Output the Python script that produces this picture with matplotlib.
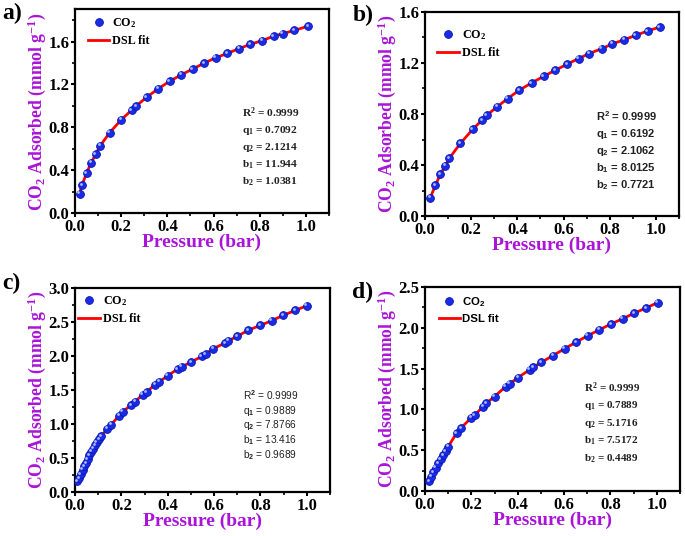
import matplotlib
matplotlib.use("Agg")
import matplotlib.pyplot as plt
from matplotlib.ticker import MultipleLocator, FormatStrFormatter
from matplotlib.lines import Line2D
import matplotlib.transforms as mtransforms

plt.rcParams['font.family'] = ['Liberation Serif', 'DejaVu Serif']
plt.rcParams['font.weight'] = 'bold'
plt.rcParams['mathtext.fontset'] = 'custom'
plt.rcParams['mathtext.rm'] = 'Liberation Serif:bold'
plt.rcParams['mathtext.it'] = 'Liberation Serif:italic:bold'
plt.rcParams['mathtext.bf'] = 'Liberation Serif:bold'
plt.rcParams['mathtext.sf'] = 'Liberation Sans:bold'

# ---------------- data ----------------
p_a = [0.02, 0.03, 0.05, 0.07, 0.09, 0.11, 0.15, 0.20, 0.245, 0.265, 0.31, 0.36,
       0.41, 0.46, 0.51, 0.56, 0.61, 0.66, 0.71, 0.76, 0.81, 0.86, 0.90, 0.95, 1.01]
q_a = [0.18, 0.26, 0.37, 0.47, 0.55, 0.63, 0.75, 0.87, 0.96, 1.00, 1.08, 1.16,
       1.23, 1.29, 1.345, 1.40, 1.45, 1.49, 1.535, 1.575, 1.61, 1.65, 1.675, 1.705, 1.745]

p_b = [0.023, 0.045, 0.066, 0.088, 0.105, 0.153, 0.206, 0.247, 0.268, 0.312, 0.358,
       0.408, 0.462, 0.514, 0.564, 0.615, 0.665, 0.711, 0.766, 0.812, 0.863, 0.913,
       0.964, 1.017]
q_b = [0.144, 0.24, 0.326, 0.394, 0.452, 0.569, 0.679, 0.752, 0.791, 0.856, 0.921,
       0.987, 1.044, 1.096, 1.143, 1.19, 1.235, 1.274, 1.313, 1.35, 1.383, 1.417,
       1.451, 1.483]

p_c = [0.010, 0.017, 0.024, 0.033, 0.040, 0.047, 0.055, 0.062, 0.070, 0.078, 0.086,
       0.094, 0.104, 0.112, 0.140, 0.155, 0.190, 0.206, 0.242, 0.259, 0.292, 0.309,
       0.345, 0.363, 0.400, 0.443, 0.460, 0.500, 0.547, 0.564, 0.597, 0.647, 0.662,
       0.700, 0.748, 0.799, 0.849, 0.899, 0.950, 1.000]
q_c = [0.157, 0.206, 0.265, 0.33, 0.377, 0.426, 0.485, 0.54, 0.59, 0.637, 0.686,
       0.73, 0.78, 0.82, 0.93, 0.99, 1.12, 1.18, 1.28, 1.33, 1.43, 1.47,
       1.58, 1.62, 1.71, 1.81, 1.84, 1.91, 1.995, 2.03, 2.11, 2.19, 2.225,
       2.29, 2.38, 2.45, 2.52, 2.60, 2.67, 2.74]

p_d = [0.017, 0.026, 0.036, 0.046, 0.057, 0.067, 0.079, 0.089, 0.100, 0.136, 0.155,
       0.200, 0.215, 0.250, 0.265, 0.300, 0.348, 0.365, 0.401, 0.451, 0.466, 0.501,
       0.552, 0.602, 0.652, 0.702, 0.752, 0.802, 0.852, 0.903, 0.953, 1.003]
q_d = [0.123, 0.176, 0.229, 0.286, 0.34, 0.389, 0.442, 0.491, 0.544, 0.708, 0.77,
       0.90, 0.93, 1.035, 1.076, 1.158, 1.28, 1.313, 1.39, 1.485, 1.514, 1.575,
       1.66, 1.743, 1.825, 1.903, 1.976, 2.046, 2.11, 2.18, 2.242, 2.308]

params_a = ["0.9999", "0.7092", "2.1214", "11.944", "1.0381"]
params_b = ["0.9999", "0.6192", "2.1062", "8.0125", "0.7721"]
params_c = ["0.9999", "0.9889", "7.8766", "13.416", "0.9689"]
params_d = ["0.9999", "0.7889", "5.1716", "7.5172", "0.4489"]

letters = ["a)", "b)", "c)", "d)"]
ylims = [1.9, 1.6, 3.0, 2.5]
ymajor = [0.4, 0.4, 0.5, 0.5]

PURPLE = '#AA14D8'
BLUE = '#1A2BE8'

fig = plt.figure(figsize=(6.85, 5.36), dpi=100)

rects = [
    [75/685, 1-213/536, 254/685, 203.5/536],
    [425/685, 1-216/536, 254/685, 204/536],
    [75/685, 1-492/536, 255/685, 204/536],
    [425/685, 1-491/536, 255/685, 204/536],
]

# annotation style per panel: (x, y_top, y_step, family, weight, size)
ann = [
    (0.656, 0.491, 0.084, 'Liberation Serif', 'bold', 8.2),
    (0.673, 0.487, 0.084, 'Liberation Sans', 'bold', 8.0),
    (0.658, 0.472, 0.073, 'Liberation Sans', 'normal', 7.3),
    (0.625, 0.505, 0.087, 'Liberation Serif', 'bold', 8.0),
]
legend_sans = [False, False, False, True]
legend_anchor = [(0.05, 0.968), (0.047, 0.922), (0.012, 0.97), (0.055, 0.96)]

datasets = [(p_a, q_a, params_a), (p_b, q_b, params_b),
            (p_c, q_c, params_c), (p_d, q_d, params_d)]

MS = 5.6

for i, (p, q, prm) in enumerate(datasets):
    ax = fig.add_axes(rects[i])
    ax.plot(p, q, color='#FF0000', lw=2.0, zorder=2)
    ax.plot(p, q, ls='none', marker='o', ms=MS, mfc=BLUE, mec='#0A14B0',
            mew=0.6, zorder=3)
    off = mtransforms.offset_copy(ax.transData, fig=fig, x=-1.0, y=1.0, units='points')
    ax.plot(p, q, ls='none', marker='o', ms=2.0, mfc='#A8BCFF', mec='none',
            transform=off, zorder=4)

    ax.set_xlim(0, 1.1)
    ax.set_ylim(0, ylims[i])
    ax.xaxis.set_major_locator(MultipleLocator(0.2))
    ax.xaxis.set_minor_locator(MultipleLocator(0.1))
    ax.yaxis.set_major_locator(MultipleLocator(ymajor[i]))
    ax.yaxis.set_minor_locator(MultipleLocator(ymajor[i] / 2))
    ax.xaxis.set_major_formatter(FormatStrFormatter('%.1f'))
    ax.yaxis.set_major_formatter(FormatStrFormatter('%.1f'))
    ax.tick_params(which='major', direction='out', length=3.0, width=1.5,
                   labelsize=12, pad=1.2)
    ax.tick_params(which='minor', direction='out', length=2.0, width=1.2)
    for lab in ax.get_xticklabels() + ax.get_yticklabels():
        lab.set_fontweight('bold')
    for s in ax.spines.values():
        s.set_linewidth(1.6)

    ax.set_xlabel('Pressure (bar)', color=PURPLE, fontsize=14, fontweight='bold', labelpad=-1)
    ax.set_ylabel('CO$_2$ Adsorbed (mmol g$^{-1}$)', color=PURPLE, fontsize=12.7,
                  fontweight='bold', labelpad=0)

    # legend
    if legend_sans[i]:
        prop = {'family': 'Liberation Sans', 'weight': 'bold', 'size': 8.2}
        co2 = 'CO$_\\mathsf{2}$'
    else:
        prop = {'family': 'Liberation Serif', 'weight': 'bold', 'size': 8.7}
        co2 = 'CO$_2$'
    mk = Line2D([], [], ls='none', marker='o', ms=MS, mfc=BLUE, mec='#0A14B0', mew=0.6)
    ln = Line2D([], [], color='#FF0000', lw=2.0)
    ax.legend([mk, ln], [co2, 'DSL fit'], loc='upper left', frameon=False,
              prop=prop, handlelength=1.8, handletextpad=0.25, labelspacing=0.45,
              borderaxespad=0.0, borderpad=0.0, bbox_to_anchor=legend_anchor[i])

    # annotation
    x0, y0, dy, fam, wt, fs = ann[i]
    sup = '$^\\mathsf{2}$' if fam == 'Liberation Sans' else '$^2$'
    def sub(n):
        return ('$_\\mathsf{%s}$' % n) if fam == 'Liberation Sans' else ('$_%s$' % n)
    lines = ['R' + sup + ' = ' + prm[0],
             'q' + sub(1) + ' = ' + prm[1],
             'q' + sub(2) + ' = ' + prm[2],
             'b' + sub(1) + ' = ' + prm[3],
             'b' + sub(2) + ' = ' + prm[4]]
    for k, t in enumerate(lines):
        ax.text(x0, y0 - k * dy, t, transform=ax.transAxes, family=fam,
                fontweight=wt, fontsize=fs, va='center', ha='left', color='#222222')

letter_pos = [(2, 13), (353, 15), (2, 283), (352, 292)]
for (lx, ly), t in zip(letter_pos, letters):
    fig.text(lx / 685, 1 - ly / 536, t, fontsize=17, fontweight='bold',
             va='center', ha='left', family='Liberation Serif')

fig.savefig('out.png', dpi=100)
